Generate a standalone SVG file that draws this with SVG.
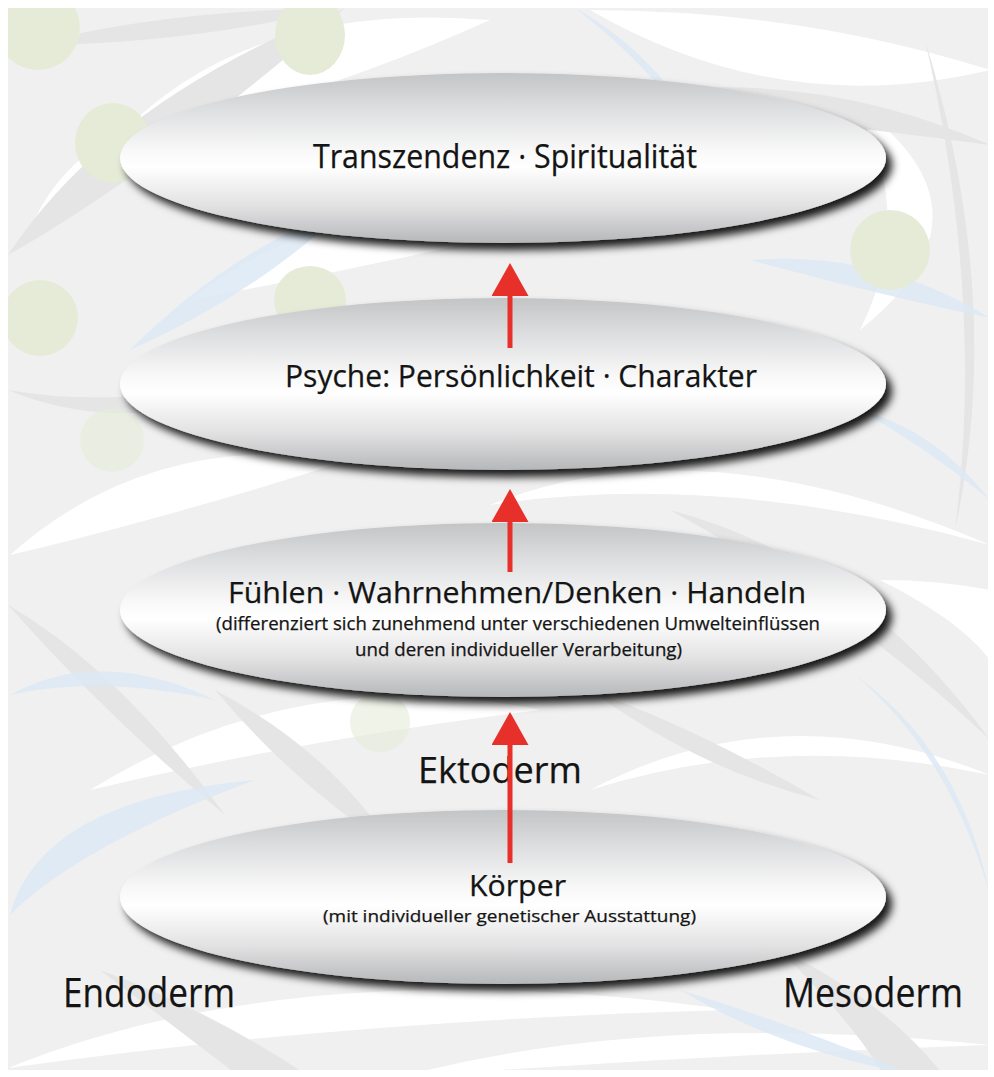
<svg xmlns="http://www.w3.org/2000/svg" width="994" height="1077" viewBox="0 0 994 1077">
<defs>
<linearGradient id="egrad" x1="0" y1="0" x2="0" y2="1">
<stop offset="0" stop-color="#c3c4c6"/>
<stop offset="0.2" stop-color="#dcdddf"/>
<stop offset="0.45" stop-color="#f8f8f8"/>
<stop offset="0.55" stop-color="#ffffff"/>
<stop offset="0.78" stop-color="#e2e2e3"/>
<stop offset="1" stop-color="#b6b7b9"/>
</linearGradient>
<filter id="shadow" x="-10%" y="-30%" width="125%" height="170%">
<feGaussianBlur in="SourceAlpha" stdDeviation="4"/>
<feOffset dx="6" dy="7" result="b"/>
<feFlood flood-color="#000" flood-opacity="0.9"/>
<feComposite in2="b" operator="in"/>
<feMerge><feMergeNode/><feMergeNode in="SourceGraphic"/></feMerge>
</filter>
<clipPath id="bgclip"><rect x="8" y="8" width="980" height="1062"/></clipPath>
<marker id="ah" viewBox="0 0 33 37" refX="0" refY="18.5" markerWidth="33" markerHeight="37" markerUnits="userSpaceOnUse" orient="auto">
<path d="M0 0 L33 18.5 L0 37 Z" fill="#e8302a"/>
</marker>
</defs>
<style>
.node ellipse{fill:url(#egrad);filter:url(#shadow)}
.t{font-family:"Open Sans","Noto Sans","Liberation Sans",sans-serif;fill:#141414;stroke:#141414;stroke-width:0.25}
.gc{fill:#e6ebd8}
.g{fill:#e5e5e5}
.w{fill:#ffffff}
.b{fill:#dde9f4;opacity:0.85}
.arrow{stroke:#e8302a;stroke-width:5;fill:none}
</style>
<rect width="994" height="1077" fill="#ffffff"/>
<g id="background" clip-path="url(#bgclip)">
<rect x="8" y="8" width="980" height="1062" fill="#f0f0f0"/>
<path class="w" d="M120 135 Q250 0 490 20 Q290 110 120 135 Z"/>
<path class="w" d="M190 300 Q340 180 570 220 Q380 265 190 300 Z"/>
<path class="w" d="M590 10 Q780 120 990 70 Q800 10 590 10 Z"/>
<path class="w" d="M850 100 Q920 210 860 330 Q1010 210 850 100 Z"/>
<path class="w" d="M10 555 Q150 430 350 460 Q160 520 10 555 Z"/>
<path class="w" d="M490 505 Q700 420 990 545 Q720 470 490 505 Z"/>
<path class="w" d="M90 790 Q300 660 540 710 Q300 740 90 790 Z"/>
<path class="w" d="M590 790 Q780 690 990 775 Q780 730 590 790 Z"/>
<path class="w" d="M8 1068 Q300 950 730 1010 Q350 1020 8 1068 Z"/>
<path class="w" d="M400 1077 Q650 1010 990 1045 Q700 1055 400 1077 Z"/>
<path class="w" d="M30 230 Q70 130 210 100 Q110 190 30 230 Z"/>
<path class="w" d="M880 580 Q960 620 990 660 L990 590 Q940 580 880 580 Z"/>
<path class="g" d="M8 255 Q110 100 345 8 Q150 175 8 255 Z"/>
<path class="g" d="M8 390 Q150 450 340 355 Q150 415 8 390 Z"/>
<path class="g" d="M590 100 Q800 60 990 145 Q800 120 590 100 Z"/>
<path class="g" d="M925 40 Q1005 300 955 530 Q985 300 925 40 Z"/>
<path class="g" d="M8 605 Q120 670 225 815 Q110 720 8 605 Z"/>
<path class="g" d="M670 510 Q860 560 990 740 Q860 615 670 510 Z"/>
<path class="g" d="M100 970 Q210 1010 310 1077 L240 1077 Q185 1035 100 970 Z"/>
<path class="g" d="M780 950 Q885 1000 945 1077 L885 1077 Q855 1025 780 950 Z"/>
<path class="g" d="M215 690 Q330 750 395 850 Q295 785 215 690 Z"/>
<path class="g" d="M30 45 Q160 10 340 8 Q180 45 30 45 Z"/>
<path class="g" d="M590 690 Q700 730 820 800 Q700 770 590 690 Z"/>
<path class="b" d="M130 350 Q230 250 350 205 Q255 295 130 350 Z"/>
<path class="b" d="M750 260 Q880 250 990 318 Q880 295 750 260 Z"/>
<path class="b" d="M10 915 Q40 800 255 780 Q80 845 10 915 Z"/>
<path class="b" d="M860 410 Q930 450 990 500 Q935 430 860 410 Z"/>
<path class="b" d="M575 8 Q650 65 710 150 Q660 55 575 8 Z"/>
<path class="b" d="M855 675 Q950 755 990 895 Q960 750 855 675 Z"/>
<path class="b" d="M10 695 Q100 645 215 700 Q100 675 10 695 Z"/>
<path class="b" d="M680 990 Q780 1020 915 1075 Q780 1050 680 990 Z"/>
<ellipse class="gc" cx="38" cy="28" rx="42" ry="42"/>
<ellipse class="gc" cx="310" cy="35" rx="35" ry="40"/>
<ellipse class="gc" cx="113" cy="143" rx="38" ry="40"/>
<ellipse class="gc" cx="40" cy="318" rx="38" ry="38"/>
<ellipse class="gc" cx="310" cy="300" rx="36" ry="34"/>
<ellipse class="gc" cx="890" cy="250" rx="40" ry="40"/>
<ellipse class="gc" cx="112" cy="440" rx="32" ry="32" opacity="0.6"/>
<ellipse class="gc" cx="380" cy="722" rx="30" ry="30" opacity="0.6"/>
</g>
<g id="node-transzendenz" class="node">
<ellipse cx="503" cy="158" rx="383" ry="85"/>
<text class="t" x="313" y="168" font-size="33" textLength="384" lengthAdjust="spacingAndGlyphs">Transzendenz · Spiritualität</text>
</g>
<g id="node-psyche" class="node">
<ellipse cx="503" cy="384" rx="383" ry="86"/>
<text class="t" x="285" y="387" font-size="31" textLength="472" lengthAdjust="spacingAndGlyphs">Psyche: Persönlichkeit · Charakter</text>
</g>
<g id="node-fuehlen" class="node">
<ellipse cx="503" cy="610" rx="383" ry="87"/>
<text class="t" x="228" y="603" font-size="29" textLength="578" lengthAdjust="spacingAndGlyphs">Fühlen · Wahrnehmen/Denken · Handeln</text>
<text class="t" x="216" y="630" font-size="18" textLength="604" lengthAdjust="spacingAndGlyphs">(differenziert sich zunehmend unter verschiedenen Umwelteinflüssen</text>
<text class="t" x="355" y="656" font-size="18" textLength="327" lengthAdjust="spacingAndGlyphs">und deren individueller Verarbeitung)</text>
</g>
<g id="node-koerper" class="node">
<ellipse cx="503" cy="897" rx="383" ry="87"/>
<text class="t" x="469" y="896" font-size="30" textLength="97" lengthAdjust="spacingAndGlyphs">Körper</text>
<text class="t" x="323" y="922" font-size="17" textLength="373" lengthAdjust="spacingAndGlyphs">(mit individueller genetischer Ausstattung)</text>
</g>
<g id="labels">
<text id="label-ektoderm" class="t" x="418" y="783" font-size="37" textLength="164" lengthAdjust="spacingAndGlyphs">Ektoderm</text>
<text id="label-endoderm" class="t" x="63" y="1007" font-size="40" textLength="172" lengthAdjust="spacingAndGlyphs">Endoderm</text>
<text id="label-mesoderm" class="t" x="783" y="1007" font-size="40" textLength="180" lengthAdjust="spacingAndGlyphs">Mesoderm</text>
</g>
<g id="connectors">
<path class="arrow" d="M510 348 L510 296" marker-end="url(#ah)"/>
<path class="arrow" d="M510 572 L510 522" marker-end="url(#ah)"/>
<path class="arrow" d="M510 863 L510 745" marker-end="url(#ah)"/>
</g>
</svg>
